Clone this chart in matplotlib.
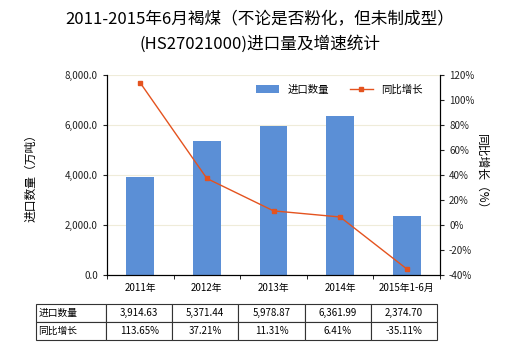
import matplotlib
matplotlib.use('Agg')
import matplotlib.pyplot as plt
import numpy as np

plt.rcParams['font.family'] = ['Noto Sans CJK SC', 'DejaVu Sans']
plt.rcParams['axes.unicode_minus'] = False

years = ['2011年', '2012年', '2013年', '2014年', '2015年1-6月']
qty = [3914.63, 5371.44, 5978.87, 6361.99, 2374.70]
growth = [113.65, 37.21, 11.31, 6.41, -35.11]

BAR = '#5b8fd6'
LINE = '#e4531f'

fig = plt.figure(figsize=(5.2, 3.5), dpi=100)
ax = fig.add_axes([107 / 520, 1 - 275 / 350, 333 / 520, 200 / 350])
x = np.arange(len(years))

ax.bar(x, qty, width=0.42, color=BAR, label='进口数量', zorder=2)
ax.set_xlim(-0.5, len(years) - 0.5)
ax.set_ylim(0, 8000)
ax.set_yticks(np.arange(0, 8001, 2000))
ax.set_yticklabels([f'{v:,.1f}' for v in np.arange(0, 8001, 2000)])
ax.yaxis.grid(True, color='#efecd9', linewidth=0.8, zorder=0)
ax.set_xticks(x)
ax.set_xticklabels(years)
ax.set_xticks(np.arange(-0.5, len(years), 1), minor=True)
ax.tick_params(axis='x', which='major', length=0, labelsize=7, pad=6)
ax.tick_params(axis='x', which='minor', length=3)
ax.tick_params(axis='y', labelsize=7, length=3, colors='#222222')
ax.spines['top'].set_visible(False)
ax.set_ylabel('进口数量（万吨）', fontsize=8.5, labelpad=20)

ax2 = ax.twinx()
ax2.plot(x, growth, color=LINE, linewidth=1, marker='s', markersize=3,
         label='同比增长', zorder=3)
ax2.set_ylim(-40, 120)
ax2.set_yticks(np.arange(-40, 121, 20))
ax2.set_yticklabels([f'{v}%' for v in np.arange(-40, 121, 20)])
ax2.tick_params(axis='y', labelsize=7, length=3, colors='#222222')
ax2.spines['top'].set_visible(False)
ax2.set_ylabel('同比增长（%）', fontsize=8.5, rotation=270, labelpad=10)

# legend
h1, l1 = ax.get_legend_handles_labels()
h2, l2 = ax2.get_legend_handles_labels()
ax.legend(h1 + h2, l1 + l2, loc='upper left', bbox_to_anchor=(0.42, 1.0),
          ncol=2, frameon=False, fontsize=7.5, handlelength=2.2,
          columnspacing=2.0)

fig.text(0.5, 1 - 20 / 350, '2011-2015年6月褐煤（不论是否粉化，但未制成型）',
         ha='center', va='center', fontsize=12)
fig.text(0.5, 1 - 44 / 350, '(HS27021000)进口量及增速统计',
         ha='center', va='center', fontsize=12)

# data table under the chart
cells = [['进口数量'] + [f'{v:,.2f}' for v in qty],
         ['同比增长'] + [f'{v:.2f}%' for v in growth]]
left = (36 - 107) / 333
right = (437 - 107) / 333
tbl = ax.table(cellText=cells,
               colWidths=[70] + [66.2] * 5,
               bbox=[left, (275 - 340) / 200, right - left, 36 / 200])
tbl.auto_set_font_size(False)
for (r, c), cell in tbl.get_celld().items():
    cell.set_fontsize(7)
    cell.set_linewidth(0.8)
    cell.set_edgecolor('#333333')
    if c == 0:
        cell.get_text().set_ha('left')
        cell.PAD = 0.03
    else:
        cell.get_text().set_ha('center')

fig.savefig('out.png', dpi=100)
